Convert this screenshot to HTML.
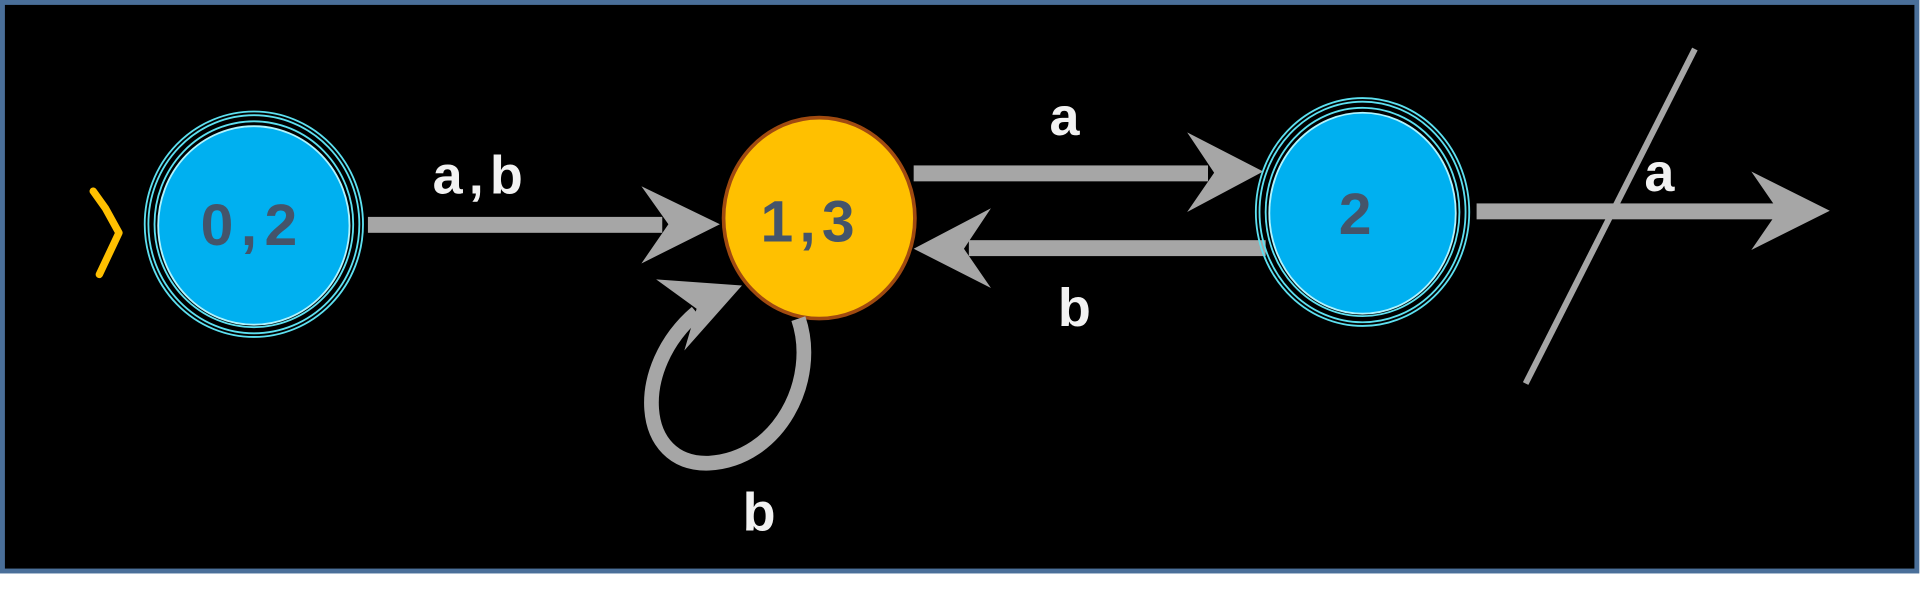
<!DOCTYPE html>
<html><head><style>html,body{margin:0;padding:0;background:#fff;}svg{display:block;}</style></head>
<body>
<svg width="1923" height="609" viewBox="0 0 1568 497" preserveAspectRatio="none" xmlns="http://www.w3.org/2000/svg">
<rect x="0" y="0" width="1568" height="497" fill="#fff"/>
<rect x="2" y="2" width="1561" height="464" fill="#000" stroke="#4a6f99" stroke-width="4"/>
<g font-family="'Comic Sans MS','Liberation Sans',sans-serif" font-weight="bold" text-anchor="middle">
<polyline points="76,156 86,170 97,190 81,224" fill="none" stroke="#ffc000" stroke-width="6" stroke-linecap="round" stroke-linejoin="round"/>
<ellipse cx="207" cy="183" rx="89" ry="92" fill="none" stroke="#5de0f0" stroke-width="1.5"/>
<ellipse cx="207" cy="183" rx="86" ry="89" fill="none" stroke="#5de0f0" stroke-width="1.5"/>
<ellipse cx="207" cy="183" rx="81" ry="84" fill="none" stroke="#5de0f0" stroke-width="1.5"/>
<ellipse cx="207" cy="184" rx="78" ry="81" fill="#00b0f0" stroke="#b0f4ff" stroke-width="1.5"/>
<text x="206" y="200" font-size="48" letter-spacing="6" fill="#44546a">0,2</text>
<rect x="300" y="177" width="240" height="13" fill="#a6a6a6"/>
<polygon points="523,152 587,183 523,215 545,183" fill="#a6a6a6"/>
<text x="392" y="158" font-size="44" letter-spacing="5" fill="#f2f2f2">a,b</text>
<ellipse cx="668" cy="178" rx="78" ry="82" fill="#ffc000" stroke="#a04a10" stroke-width="3"/>
<text x="661" y="197" font-size="48" letter-spacing="5" fill="#44546a">1,3</text>
<rect x="745" y="135" width="240" height="13" fill="#a6a6a6"/>
<polygon points="968,108 1030,140 968,173 990,141" fill="#a6a6a6"/>
<text x="868" y="110" font-size="44" fill="#f2f2f2">a</text>
<rect x="790" y="196" width="242" height="13" fill="#a6a6a6"/>
<polygon points="808,170 745,203 808,235 786,203" fill="#a6a6a6"/>
<text x="876" y="266" font-size="44" fill="#f2f2f2">b</text>
<ellipse cx="1111" cy="173" rx="87" ry="93" fill="none" stroke="#5de0f0" stroke-width="1.5"/>
<ellipse cx="1111" cy="173" rx="84" ry="90" fill="none" stroke="#5de0f0" stroke-width="1.5"/>
<ellipse cx="1111" cy="173" rx="79" ry="85" fill="none" stroke="#5de0f0" stroke-width="1.5"/>
<ellipse cx="1111" cy="174" rx="76" ry="82" fill="#00b0f0" stroke="#b0f4ff" stroke-width="1.5"/>
<text x="1105" y="191" font-size="48" fill="#44546a">2</text>
<rect x="1204" y="166" width="250" height="13" fill="#a6a6a6"/>
<polygon points="1428,140 1492,172 1428,204 1450,172" fill="#a6a6a6"/>
<text x="1353" y="156" font-size="44" fill="#f2f2f2">a</text>
<line x1="1382" y1="40" x2="1244" y2="313" stroke="#a6a6a6" stroke-width="5"/>
<path d="M651,260 C668,310 635,375 578,378 C520,380 515,300 568,255" fill="none" stroke="#a6a6a6" stroke-width="12"/>
<polygon points="535,228 605,233 558,286 568,252" fill="#a6a6a6"/>
<text x="619" y="433" font-size="44" fill="#f2f2f2">b</text>
</g>
</svg>
</body></html>
